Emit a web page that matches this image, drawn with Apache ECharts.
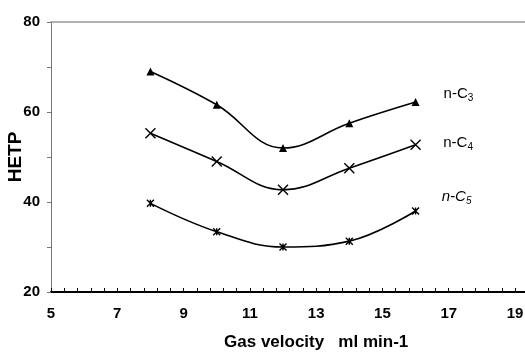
<!DOCTYPE html>
<html>
<head>
<meta charset="utf-8">
<script src="https://cdn.jsdelivr.net/npm/echarts@6/dist/echarts.min.js"></script>
<style>html,body{margin:0;padding:0;background:#fff}#c{width:525px;height:354px}</style>
</head>
<body>
<div id="c"></div>
<script>
const xValues = [8, 10, 12, 14, 16];
const nC3 = [69, 61.6, 52, 57.5, 62.2];
const nC4 = [55.3, 49, 42.7, 47.5, 52.7];
const nC5 = [39.7, 33.4, 30, 31.3, 38];
const seriesNames = ['n-C3', 'n-C4', 'n-C5'];
const xTitle = 'Gas velocity   ml min-1';
const yTitle = 'HETP';

const FONT = '"Liberation Sans", Arial, sans-serif';
const chart = echarts.init(document.getElementById('c'), null, {renderer: 'canvas'});

const labelRich = {
  n: {fontFamily: FONT, fontSize: 15, color: '#000'},
  ni: {fontFamily: FONT, fontSize: 15, color: '#000', fontStyle: 'italic'},
  s: {fontFamily: FONT, fontSize: 10, color: '#000', padding: [9, 0, 0, 0]},
  si: {fontFamily: FONT, fontSize: 10, color: '#000', fontStyle: 'italic', padding: [9, 0, 0, 0]}
};
const labelText = ['{n|n-C}{s|3}', '{n|n-C}{s|4}', '{ni|n-C}{si|5}'];
const labelOffsets = [[24, -8], [22, -2], [22, -14]];

function buildData(vals, idx) {
  return xValues.map((x, i) => {
    const d = {value: [x, vals[i]]};
    if (i === xValues.length - 1) {
      d.label = {
        show: true, position: 'right', distance: 0,
        offset: labelOffsets[idx],
        formatter: labelText[idx], rich: labelRich
      };
    }
    return d;
  });
}

const symbols = [
  'triangle',
  'path://M0,0L10,10M10,0L0,10',
  'path://M0,0L10,10M10,0L0,10M5,0L5,10'
];
const symbolSizes = [8, 10, 7];
const seriesData = [nC3, nC4, nC5];

chart.setOption({
  animation: false,
  backgroundColor: '#fff',
  grid: {left: 51, right: -56.3, top: 22, bottom: 62, containLabel: false, outerBoundsMode: 'none'},
  xAxis: [{
    type: 'value', min: 5, max: 21, interval: 2,
    name: xTitle, nameLocation: 'middle', nameGap: 42, nameMoveOverlap: false,
    nameTextStyle: {fontFamily: FONT, fontSize: 17, fontWeight: 'bold', color: '#000'},
    axisLine: {show: true, onZero: false, lineStyle: {color: '#000', width: 2}},
    axisTick: {show: true, inside: true, length: 4, lineStyle: {color: '#000'}},
    minorTick: {show: true, splitNumber: 5, length: 4, lineStyle: {color: '#000'}},
    axisLabel: {fontFamily: FONT, fontSize: 15, fontWeight: 'bold', color: '#000', margin: 14},
    splitLine: {show: false}
  }, {
    type: 'value', min: 5, max: 21, position: 'top',
    axisLine: {show: true, onZero: false, lineStyle: {color: '#999', width: 1.5}},
    axisTick: {show: false}, axisLabel: {show: false}, splitLine: {show: false}
  }],
  yAxis: {
    type: 'value', min: 20, max: 80, interval: 10,
    name: yTitle, nameLocation: 'middle', nameGap: 26, nameRotate: 90, nameMoveOverlap: false,
    nameTextStyle: {fontFamily: FONT, fontSize: 19, fontWeight: 'bold', color: '#000'},
    axisLine: {show: true, onZero: false, lineStyle: {color: '#777', width: 1}},
    axisTick: {show: true, length: 4, lineStyle: {color: '#777'}},
    axisLabel: {
      fontFamily: FONT, fontSize: 15, fontWeight: 'bold', color: '#000', margin: 11,
      formatter: v => (v % 20 === 0 ? String(v) : '')
    },
    splitLine: {show: false}
  },
  series: seriesData.map((vals, idx) => ({
    name: seriesNames[idx],
    type: 'line',
    smooth: 0.4,
    data: buildData(vals, idx),
    symbol: symbols[idx],
    symbolSize: symbolSizes[idx],
    showAllSymbol: true,
    lineStyle: {color: '#000', width: 1.6},
    itemStyle: {color: '#000', borderColor: '#000', borderWidth: idx === 0 ? 0 : 1.4}
  }))
});
</script>
</body>
</html>
